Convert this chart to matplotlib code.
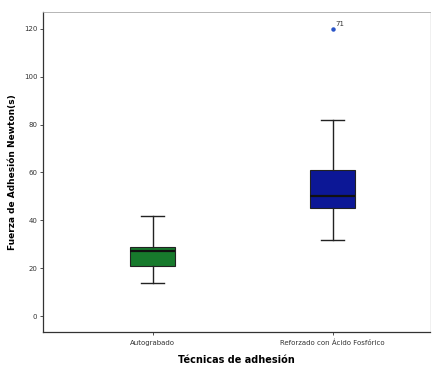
import matplotlib.pyplot as plt

# box statistics
grupos = ['Autograbado', 'Reforzado con Ácido Fosfórico']
minimos = [14, 32]
q1 = [21, 45]
medianas = [27, 50]
q3 = [29, 61]
maximos = [42, 82]
atipicos = [[], [120]]
etiquetas_atipicos = [[], ['71']]
colores = ['#177a2c', '#0c1796']

fig = plt.figure(figsize=(4.32, 3.67), dpi=100)
ax = fig.add_axes([0.0995, 0.095, 0.895, 0.872])

stats = []
for i in range(len(grupos)):
    stats.append({'whislo': minimos[i], 'q1': q1[i], 'med': medianas[i],
                  'q3': q3[i], 'whishi': maximos[i], 'fliers': atipicos[i],
                  'label': grupos[i]})

bp = ax.bxp(stats, positions=[1, 2], widths=0.25, patch_artist=True,
            showfliers=True,
            boxprops=dict(linewidth=0.8, edgecolor='#222222'),
            medianprops=dict(color='#111111', linewidth=1.6),
            whiskerprops=dict(color='#222222', linewidth=1.0),
            capprops=dict(color='#222222', linewidth=1.0),
            capwidths=0.125,
            flierprops=dict(marker='o', markersize=2.2, markerfacecolor='#2a55c8',
                            markeredgecolor='#2a55c8'))
for patch, c in zip(bp['boxes'], colores):
    patch.set_facecolor(c)

# outlier case numbers
for i in range(len(grupos)):
    for v, lab in zip(atipicos[i], etiquetas_atipicos[i]):
        ax.annotate(lab, (i + 1, v), xytext=(2, 2), textcoords='offset points',
                    fontsize=5, color='#333333')

ax.set_xlim(0.39, 2.54)
ax.set_ylim(-6.7, 127)
ax.set_yticks([0, 20, 40, 60, 80, 100, 120])
ax.tick_params(axis='both', labelsize=5, length=2.5, width=0.6, colors='#333333', pad=1.5)
ax.tick_params(axis='x', pad=3)

for s in ['left', 'bottom']:
    ax.spines[s].set_color('#333333')
    ax.spines[s].set_linewidth(0.9)
ax.spines['top'].set_color('#aaaaaa')
ax.spines['top'].set_linewidth(0.6)
ax.spines['right'].set_color('#eeeeee')
ax.spines['right'].set_linewidth(0.6)

ax.set_ylabel('Fuerza de Adhesión Newton(s)', fontsize=6.5, fontweight='bold', labelpad=5)
ax.set_xlabel('Técnicas de adhesión', fontsize=7, fontweight='bold', labelpad=6)

fig.savefig('out.png', dpi=100)
